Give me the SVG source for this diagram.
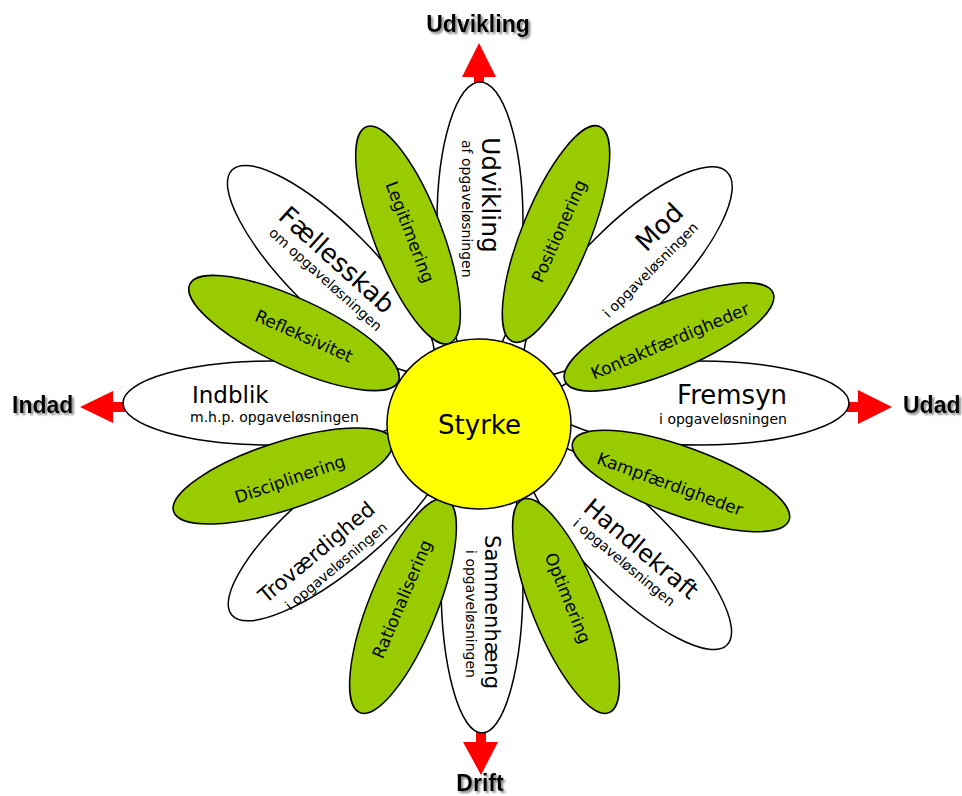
<svg xmlns="http://www.w3.org/2000/svg" width="962" height="796" viewBox="0 0 962 796">
  <defs>
    <filter id="shadow" x="-20%" y="-30%" width="140%" height="170%">
      <feDropShadow dx="2" dy="2" stdDeviation="0.9" flood-color="#666" flood-opacity="0.8"/>
    </filter>
  </defs>
  <style>
    .white { fill: #ffffff; stroke: #000; stroke-width: 1.5; }
    .green { fill: #99cc00; stroke: #000; stroke-width: 1.5; }
    .core { fill: #ffff00; stroke: #000; stroke-width: 1.5; }
    .arrow { fill: #ff0000; stroke: none; }
    .t { font-family: "DejaVu Sans", Verdana, sans-serif; fill: #000; }
    .big { font-size: 24px; }
    .sub { font-size: 14px; }
    .gl { font-size: 17px; text-anchor: middle; dominant-baseline: central; }
    .axis { font-family: "Liberation Sans", Arial, sans-serif; font-weight: bold; font-size: 23px; fill: #000; filter: url(#shadow); }
  </style>

  <rect width="962" height="796" fill="#ffffff"/>

  <!-- direction arrows and their labels -->
  <g id="connectors">
    <polygon class="arrow" points="474,85 474,77 462,77 479,43 496,77 484,77 484,85"/>
    <polygon class="arrow" points="476,732 476,742 463,742 481,775 498,742 486,742 486,732"/>
    <polygon class="arrow" points="125,402 113,402 113,391 80,407 113,423 113,412 125,412"/>
    <polygon class="arrow" points="846,402 858,402 858,390 892,407 858,424 858,412 846,412"/>
  </g>
  <g id="label-udvikling"><text class="axis" x="478" y="32" text-anchor="middle">Udvikling</text></g>
  <g id="label-indad"><text class="axis" x="12" y="413">Indad</text></g>
  <g id="label-udad"><text class="axis" x="903" y="413">Udad</text></g>
  <g id="label-drift"><text class="axis" x="480" y="791" text-anchor="middle">Drift</text></g>

  <!-- white petals -->
  <g id="petal-udvikling">
    <ellipse class="white" cx="480" cy="222" rx="43" ry="140"/>
    <g transform="translate(482,137) rotate(90)">
      <text class="t" font-size="25" x="0" y="0">Udvikling</text>
      <text class="t sub" x="3" y="20">af opgaveløsningen</text>
    </g>
  </g>
  <g id="petal-mod">
    <ellipse class="white" cx="628" cy="271" rx="140" ry="46" transform="rotate(-45 628 271)"/>
    <g transform="translate(685,214) rotate(-45)">
      <text class="t" font-size="26" x="0" y="0" text-anchor="end">Mod</text>
      <text class="t sub" x="0" y="20" text-anchor="end">i opgaveløsningen</text>
    </g>
  </g>
  <g id="petal-fremsyn">
    <ellipse class="white" cx="699" cy="403" rx="150" ry="42"/>
    <text class="t" font-size="26" x="787" y="404" text-anchor="end">Fremsyn</text>
    <text class="t sub" x="787" y="424" text-anchor="end">i opgaveløsningen</text>
  </g>
  <g id="petal-handlekraft">
    <ellipse class="white" cx="628" cy="546" rx="140" ry="43" transform="rotate(45 628 546)"/>
    <g transform="translate(582,510) rotate(40)">
      <text class="t big" x="0" y="0">Handlekraft</text>
      <text class="t sub" x="2" y="18">i opgaveløsningen</text>
    </g>
  </g>
  <g id="petal-sammenhaeng">
    <ellipse class="white" cx="482" cy="583" rx="41" ry="150"/>
    <g transform="translate(485,612) rotate(90)">
      <text class="t" font-size="21" x="0" y="0" text-anchor="middle">Sammenhæng</text>
      <text class="t sub" x="2" y="19" text-anchor="middle">i opgaveløsningen</text>
    </g>
  </g>
  <g id="petal-trovaerdighed">
    <ellipse class="white" cx="339" cy="525" rx="140" ry="43" transform="rotate(-40 339 525)"/>
    <g transform="translate(266,604) rotate(-40)">
      <text class="t" font-size="21" x="0" y="0">Troværdighed</text>
      <text class="t sub" x="14" y="21">i opgaveløsningen</text>
    </g>
  </g>
  <g id="petal-indblik">
    <ellipse class="white" cx="273" cy="403" rx="150" ry="42"/>
    <text class="t" font-size="23" x="192" y="403">Indblik</text>
    <text class="t sub" x="190" y="422">m.h.p. opgaveløsningen</text>
  </g>
  <g id="petal-faellesskab">
    <ellipse class="white" cx="331" cy="269" rx="140" ry="43" transform="rotate(45 331 269)"/>
    <g transform="translate(277,218) rotate(42)">
      <text class="t" font-size="26" x="0" y="0">Fællesskab</text>
      <text class="t sub" x="4" y="18">om opgaveløsningen</text>
    </g>
  </g>

  <!-- green petals -->
  <g id="petal-legitimering">
    <ellipse class="green" cx="408" cy="235" rx="116" ry="34" transform="rotate(69 408 235)"/>
    <text class="t gl" transform="translate(410,232) rotate(69)">Legitimering</text>
  </g>
  <g id="petal-positionering">
    <ellipse class="green" cx="556" cy="234" rx="116" ry="34" transform="rotate(-68 556 234)"/>
    <text class="t gl" transform="translate(559,231) rotate(-66)">Positionering</text>
  </g>
  <g id="petal-kontakt">
    <ellipse class="green" cx="669" cy="337" rx="113" ry="34" transform="rotate(-23 669 337)"/>
    <text class="t gl" transform="translate(670,341) rotate(-23)">Kontaktfærdigheder</text>
  </g>
  <g id="petal-kamp">
    <ellipse class="green" cx="681" cy="481" rx="115" ry="34" transform="rotate(20 681 481)"/>
    <text class="t gl" transform="translate(670,484) rotate(20)">Kampfærdigheder</text>
  </g>
  <g id="petal-optimering">
    <ellipse class="green" cx="566" cy="606" rx="115" ry="34" transform="rotate(68 566 606)"/>
    <text class="t gl" transform="translate(568,598) rotate(68)">Optimering</text>
  </g>
  <g id="petal-rationalisering">
    <ellipse class="green" cx="403" cy="606" rx="115" ry="34" transform="rotate(-68 403 606)"/>
    <text class="t gl" transform="translate(402,599) rotate(-67)">Rationalisering</text>
  </g>
  <g id="petal-disciplinering">
    <ellipse class="green" cx="283" cy="476" rx="115" ry="34" transform="rotate(-18 283 476)"/>
    <text class="t gl" transform="translate(290,479) rotate(-19)">Disciplinering</text>
  </g>
  <g id="petal-refleksivitet">
    <ellipse class="green" cx="294" cy="333" rx="115" ry="34" transform="rotate(25 294 333)"/>
    <text class="t gl" transform="translate(304,336) rotate(24)">Refleksivitet</text>
  </g>

  <!-- centre -->
  <g id="styrke">
    <ellipse class="core" cx="479" cy="424" rx="92" ry="85"/>
    <text class="t" font-size="26" x="479.5" y="434" text-anchor="middle">Styrke</text>
  </g>
</svg>
